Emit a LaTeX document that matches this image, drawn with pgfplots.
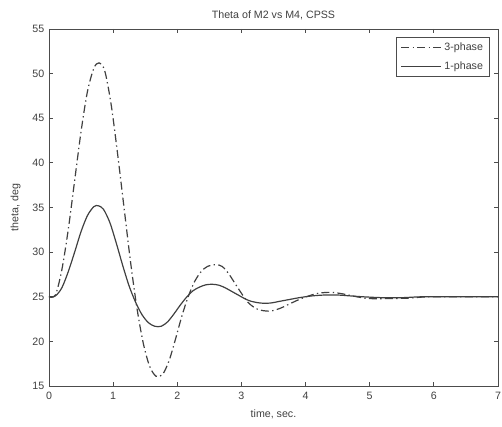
\documentclass[border=0pt]{standalone}
\usepackage{fontspec}
\setmainfont{Liberation Sans}
\usepackage{pgfplots}
\pgfplotsset{compat=1.18}
\begin{document}
\begin{tikzpicture}
\begin{axis}[
  name=ax,
  scale only axis,
  width=337pt, height=268pt,
  xmin=0, xmax=7, ymin=15, ymax=55,
  xtick={0,1,...,7}, ytick={15,20,...,55},
  tick align=inside, tick pos=both,
  major tick length=3pt,
  /pgf/number format/assume math mode=true,
  font=\fontsize{8}{9}\selectfont,
  ticklabel style={font=\fontsize{8}{9}\selectfont, text=black!75},
  xticklabel style={yshift=-1pt},
  axis line style={black!70, line width=0.6pt},
  every tick/.style={black!70, line width=0.6pt},
  title={Theta of M2 vs M4, CPSS},
  title style={font=\fontsize{8}{9}\selectfont, text=black!75, yshift=-3pt},
  xlabel={time, sec.},
  ylabel={theta, deg},
  label style={font=\fontsize{8}{9}\selectfont, text=black!75},
  xlabel style={yshift=-1pt},
  ylabel style={yshift=2pt},
  legend style={at={(1,1)}, anchor=north east, xshift=-6pt, yshift=-6pt,
    draw=black!70, line width=0.6pt, font=\fontsize{8}{9}\selectfont, text=black!75,
    inner xsep=3pt, inner ysep=2pt, row sep=3pt, legend cell align=left},
  legend image code/.code={\draw[#1] (0pt,0pt) -- (30pt,0pt);},
]
\addplot[black!75, line width=0.9pt, smooth, tension=0.5, dash pattern=on 6pt off 2.5pt on 1pt off 2.5pt] coordinates {
(0,25) (0.1,25.2) (0.2,28) (0.3,32.5) (0.4,38) (0.5,43.5) (0.6,48) (0.7,50.6) (0.78,51.2)
(0.87,50.3) (0.97,46.5) (1.07,41) (1.17,35) (1.27,29) (1.37,23.8) (1.47,19.8) (1.57,17.2)
(1.67,16.1) (1.77,16.3) (1.87,17.8) (1.97,20.2) (2.07,22.8) (2.17,25) (2.27,26.7) (2.37,27.8)
(2.47,28.4) (2.6,28.6) (2.7,28.4) (2.8,27.6) (2.9,26.5) (3.0,25.4) (3.1,24.4) (3.2,23.8)
(3.3,23.5) (3.45,23.4) (3.6,23.7) (3.75,24.2) (3.9,24.7) (4.05,25.1) (4.2,25.4) (4.4,25.5)
(4.6,25.3) (4.8,25) (5.0,24.8) (5.3,24.8) (5.6,24.85) (5.9,25) (6.3,25) (7,25)
};
\addlegendentry{3-phase}
\addplot[black!75, line width=0.9pt, smooth, tension=0.5] coordinates {
(0,25) (0.1,25.1) (0.2,26) (0.3,27.8) (0.4,30) (0.5,32.3) (0.6,34.1) (0.7,35.1) (0.77,35.2)
(0.85,34.8) (0.95,33.3) (1.05,31) (1.15,28.5) (1.25,26.2) (1.35,24.4) (1.45,23) (1.55,22.1)
(1.65,21.7) (1.75,21.7) (1.85,22.2) (1.95,23.1) (2.05,24.1) (2.15,25) (2.25,25.7) (2.35,26.1)
(2.45,26.35) (2.55,26.4) (2.65,26.3) (2.75,26) (2.85,25.6) (2.95,25.2) (3.05,24.8) (3.15,24.5)
(3.3,24.3) (3.45,24.3) (3.6,24.5) (3.75,24.7) (3.9,24.9) (4.1,25.1) (4.3,25.2) (4.5,25.2)
(4.7,25.1) (4.9,25) (5.2,24.9) (5.5,24.9) (5.8,25) (6.2,25) (7,25)
};
\addlegendentry{1-phase}
\end{axis}
\pgfresetboundingbox
\path ([xshift=-36.75pt,yshift=-30pt]ax.south west) rectangle ([xshift=3pt,yshift=21.75pt]ax.north east);
\end{tikzpicture}
\end{document}
